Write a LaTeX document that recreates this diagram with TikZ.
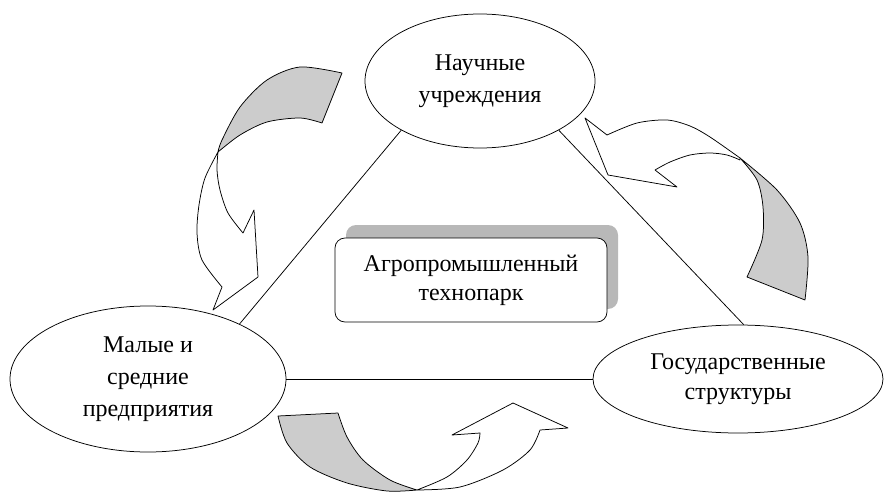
\documentclass[tikz,border=0pt]{standalone}
\usepackage{fontspec}
\setmainfont{Liberation Serif}
\usetikzlibrary{shapes.geometric,shadows}
\definecolor{bandgray}{RGB}{204,204,204}
\definecolor{shadowgray}{RGB}{184,184,184}

\begin{document}
\begin{tikzpicture}[x=1pt,y=-1pt,line width=0.75pt,
    party/.style={ellipse, draw, inner sep=0pt, align=center,
        font=\fontsize{24}{32}\selectfont},
    parkbox/.style={rectangle, draw, fill=white, rounded corners=10pt,
        minimum width=272pt, minimum height=84pt, align=center,
        font=\fontsize{24}{29}\selectfont,
        general shadow={fill=shadowgray, shadow xshift=11pt, shadow yshift=13pt}},
    backband/.style={draw, fill=bandgray, line join=round},
    frontband/.style={draw, fill=white, line join=round}]

\useasboundingbox (0,0) rectangle (884,492);

% STEP 1: The three partners.
\node[party, minimum width=230pt, minimum height=134pt] (sci) at (480,81) {Научные\\учреждения};
\node[party, minimum width=276pt, minimum height=146pt] (small) at (148,379) {Малые и\\средние\\предприятия};
\node[party, minimum width=290pt, minimum height=108pt,
      font=\fontsize{24}{30}\selectfont] (state) at (738,379) {Государственные\\структуры};

% STEP 2: The park in the middle.
\node[parkbox] (park) at (471,280) {Агропромышленный\\технопарк};

% STEP 3: Links between the partners.
\draw (sci.212) -- (small.31);
\draw (sci.328) -- (state.84);
\draw (small.east) -- (state.west);

% STEP 4: The curved arrows (grey back of the band, white front with the head).
% --- from Научные учреждения down to Малые и средние предприятия ---
\path[backband] plot[smooth] coordinates {(342,73) (300,67) (267,80) (240,107) (222,140) (218,152)}
    -- plot[smooth] coordinates {(218,152) (240,135) (267,122) (300,118) (322,123)} -- cycle;
\path[frontband] plot[smooth] coordinates {(218,152) (205,178) (199,205) (197,233) (202,260) (222,287)}
    -- (213,310) -- (258,277) -- (254,210)
    -- plot[smooth] coordinates {(243,233) (228,213) (220,190) (217,170) (218,152)} -- cycle;

% --- from Государственные структуры up to Научные учреждения ---
\path[backband] plot[smooth] coordinates {(740,158) (777,190) (800,223) (808,257) (805,300)}
    -- plot[smooth] coordinates {(747,277) (762,240) (763,207) (757,180) (740,158)} -- cycle;
\path[frontband] plot[smooth] coordinates {(740,158) (710,137) (690,126) (667,120) (637,123) (607,135)}
    -- (585,118) -- (608,175) -- (677,187)
    -- plot[smooth] coordinates {(655,170) (670,162) (690,155) (710,153) (727,155) (740,160)} -- cycle;

% --- from Малые и средние предприятия across to Государственные структуры ---
\path[backband] plot[smooth] coordinates {(278,416) (287,443) (310,467) (347,483) (387,491) (417,490)}
    -- plot[smooth] coordinates {(417,490) (390,480) (363,460) (347,437) (338,413)} -- cycle;
\path[frontband] plot[smooth] coordinates {(417,490) (460,487) (503,470) (530,450) (540,430)}
    -- (568,428) -- (513,403) -- (452,435)
    -- plot[smooth] coordinates {(480,433) (478,443) (467,460) (447,477) (417,490)} -- cycle;

\end{tikzpicture}
\end{document}
